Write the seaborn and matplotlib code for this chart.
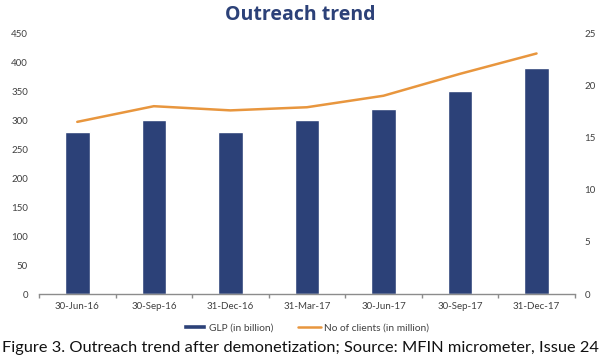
import matplotlib
matplotlib.use("Agg")
import matplotlib.pyplot as plt
import seaborn as sns
import numpy as np
import pandas as pd
from matplotlib.lines import Line2D
from matplotlib.patches import Patch

dates = ["30-Jun-16", "30-Sep-16", "31-Dec-16", "31-Mar-17", "30-Jun-17", "30-Sep-17", "31-Dec-17"]
glp = [280, 300, 280, 300, 320, 350, 390]
clients = [16.5, 18.0, 17.6, 17.9, 19.0, 21.1, 23.05]
left_ticks = [0, 50, 100, 150, 200, 250, 300, 350, 400, 450]
right_ticks = [0, 5, 10, 15, 20, 25]

sns.set_theme(style="white")
plt.rcParams['font.family'] = ['Lato', 'DejaVu Sans']

bar_color = "#2C4178"
line_color = "#E8963E"
txt = "#404040"

df = pd.DataFrame({"date": dates, "glp": glp, "clients": clients})

fig = plt.figure(figsize=(6, 3.64), dpi=100)
ax = fig.add_axes([0.065, 0.192, 0.893, 0.717])
sns.barplot(data=df, x="date", y="glp", color=bar_color, width=0.32, ax=ax, saturation=1)
ax2 = ax.twinx()
sns.lineplot(data=df, x="date", y="clients", color=line_color, linewidth=1.8, ax=ax2, sort=False)

ax.set_xlim(-0.5, 6.5)
ax.set_ylim(0, 450)
ax2.set_ylim(0, 25)
ax.set_yticks(left_ticks)
ax2.set_yticks(right_ticks)
ax.set_xlabel("")
ax.set_ylabel("")
ax2.set_ylabel("")

for a in (ax, ax2):
    for s in a.spines.values():
        s.set_visible(False)
ax.spines['bottom'].set_visible(True)
ax.spines['bottom'].set_color("#8c8c8c")
ax.spines['bottom'].set_linewidth(1.0)

ax.tick_params(axis='y', length=0, labelsize=7, labelcolor=txt, pad=8)
ax2.tick_params(axis='y', length=0, labelsize=7, labelcolor=txt, pad=7)
ax.tick_params(axis='x', which='major', length=0, labelsize=7, labelcolor=txt, pad=6)
ax.set_xticks(np.arange(-0.5, 7, 1.0), minor=True)
ax.tick_params(axis='x', which='minor', length=3, color="#8c8c8c", width=1, direction='out', bottom=True)

fig.text(0.5, 0.960, "Outreach trend", ha='center', va='center', fontsize=14,
         fontweight='bold', color="#2C4178", family=['Open Sans', 'DejaVu Sans'])

handles = [Patch(facecolor=bar_color, label="GLP (in billion)"),
           Line2D([0], [0], color=line_color, lw=1.8, label="No of clients (in million)")]
fig.legend(handles=handles, loc='center', bbox_to_anchor=(0.51, 0.10), ncol=2, frameon=False,
           fontsize=7.3, handlelength=2.2, handleheight=0.5, columnspacing=2.5, labelcolor=txt,
           handletextpad=0.3)

fig.text(0.5, 0.043, "Figure 3. Outreach trend after demonetization; Source: MFIN micrometer, Issue 24",
         ha='center', va='center', fontsize=11.8, color="#111111")

fig.savefig("out.png", dpi=100)
